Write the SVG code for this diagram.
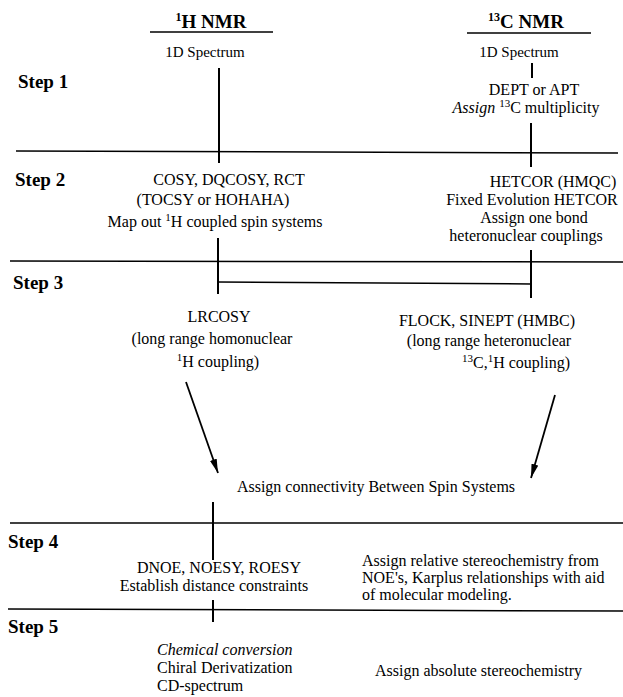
<svg xmlns="http://www.w3.org/2000/svg" width="623" height="697" viewBox="0 0 623 697">
<style>
text{font-family:"Liberation Serif","Times New Roman",serif;fill:#000;font-size:16px}
.c{text-anchor:middle}
.sm{font-size:15px}
.st{font-size:19px;font-weight:bold}
.hd{font-size:19px;font-weight:bold}
.i{font-style:italic}
.rule{stroke:#000;stroke-width:1.5;fill:none}
.v{stroke:#000;stroke-width:2;fill:none}
.arr{stroke:#000;stroke-width:1.8;fill:none;marker-end:url(#ah)}
</style>
<defs>
<marker id="ah" viewBox="0 0 14 7" refX="14" refY="3.5" markerWidth="14" markerHeight="7" markerUnits="userSpaceOnUse" orient="auto"><path d="M0,0 L14,3.5 L0,7 z" fill="#000"/></marker>
</defs>
<rect width="623" height="697" fill="#fff"/>

<g id="separators">
<line class="rule" x1="150" y1="32" x2="273" y2="32"/>
<line class="rule" x1="467" y1="33" x2="591" y2="33"/>
<line class="rule" x1="16" y1="151" x2="618" y2="153"/>
<line class="rule" x1="10" y1="261" x2="623" y2="262"/>
<line class="rule" x1="10" y1="523" x2="623" y2="523"/>
<line class="rule" x1="8" y1="609" x2="623" y2="611"/>
</g>

<g id="step-labels">
<text class="st" x="18" y="88">Step 1</text>
<text class="st" x="15" y="186">Step 2</text>
<text class="st" x="13" y="289">Step 3</text>
<text class="st" x="8" y="548">Step 4</text>
<text class="st" x="8" y="633">Step 5</text>
</g>

<g id="h-nmr-header">
<text class="hd c" x="211" y="28"><tspan font-size="12" dy="-7">1</tspan><tspan dy="7">H NMR</tspan></text>
</g>
<g id="c-nmr-header">
<text class="hd c" x="526" y="28"><tspan font-size="12" dy="-7">13</tspan><tspan dy="7">C NMR</tspan></text>
</g>

<g id="h-1d">
<text class="sm c" x="205" y="57">1D Spectrum</text>
</g>
<g id="c-1d">
<text class="sm c" x="519" y="57">1D Spectrum</text>
</g>
<g id="c-dept">
<text class="c" x="534" y="95">DEPT or APT</text>
<text class="c" x="526" y="113"><tspan class="i">Assign</tspan> <tspan font-size="11" dy="-6">13</tspan><tspan dy="6">C multiplicity</tspan></text>
</g>

<g id="h-cosy">
<text class="c" x="229" y="185">COSY, DQCOSY, RCT</text>
<text class="c" x="213" y="205">(TOCSY or HOHAHA)</text>
<text class="c" x="215" y="227">Map out <tspan font-size="11" dy="-6">1</tspan><tspan dy="6">H coupled spin systems</tspan></text>
</g>
<g id="c-hetcor">
<text class="c" x="553" y="187">HETCOR (HMQC)</text>
<text class="c" x="532" y="205">Fixed Evolution HETCOR</text>
<text class="c" x="534" y="223">Assign one bond</text>
<text class="c" x="526" y="241">heteronuclear couplings</text>
</g>

<g id="h-lrcosy">
<text class="c" x="219" y="322">LRCOSY</text>
<text class="c" x="212" y="344">(long range homonuclear</text>
<text class="c" x="218" y="367"><tspan font-size="11" dy="-6">1</tspan><tspan dy="6">H coupling)</tspan></text>
</g>
<g id="c-flock">
<text class="c" x="487" y="326">FLOCK, SINEPT (HMBC)</text>
<text class="c" x="489" y="346">(long range heteronuclear</text>
<text class="c" x="516" y="368"><tspan font-size="11" dy="-6">13</tspan><tspan dy="6">C,</tspan><tspan font-size="11" dy="-6">1</tspan><tspan dy="6">H coupling)</tspan></text>
</g>

<g id="connectivity">
<text class="c" x="376" y="492">Assign connectivity Between Spin Systems</text>
</g>

<g id="noe">
<text class="c" x="219" y="573">DNOE, NOESY, ROESY</text>
<text class="c" x="214" y="591">Establish distance constraints</text>
</g>
<g id="relative">
<text x="362" y="566">Assign relative stereochemistry from</text>
<text x="362" y="583">NOE's, Karplus relationships with aid</text>
<text x="362" y="600">of molecular modeling.</text>
</g>

<g id="derivatization">
<text x="157" y="655" class="i">Chemical conversion</text>
<text x="157" y="673">Chiral Derivatization</text>
<text x="157" y="691">CD-spectrum</text>
</g>
<g id="absolute">
<text x="375" y="676">Assign absolute stereochemistry</text>
</g>

<g id="connectors">
<line class="v" x1="219" y1="68" x2="219" y2="163"/>
<line class="v" x1="532" y1="63" x2="532" y2="78"/>
<line class="v" x1="531" y1="123" x2="531" y2="167"/>
<line class="v" x1="218" y1="238" x2="218" y2="294"/>
<line class="rule" x1="218" y1="282" x2="531" y2="284"/>
<line class="v" x1="531" y1="250" x2="531" y2="298"/>
<line class="arr" x1="186" y1="382" x2="218" y2="473"/>
<line class="arr" x1="555" y1="395" x2="531" y2="478"/>
<line class="v" x1="213" y1="502" x2="213" y2="560"/>
<line class="v" x1="213" y1="600" x2="213" y2="622"/>
</g>
</svg>
